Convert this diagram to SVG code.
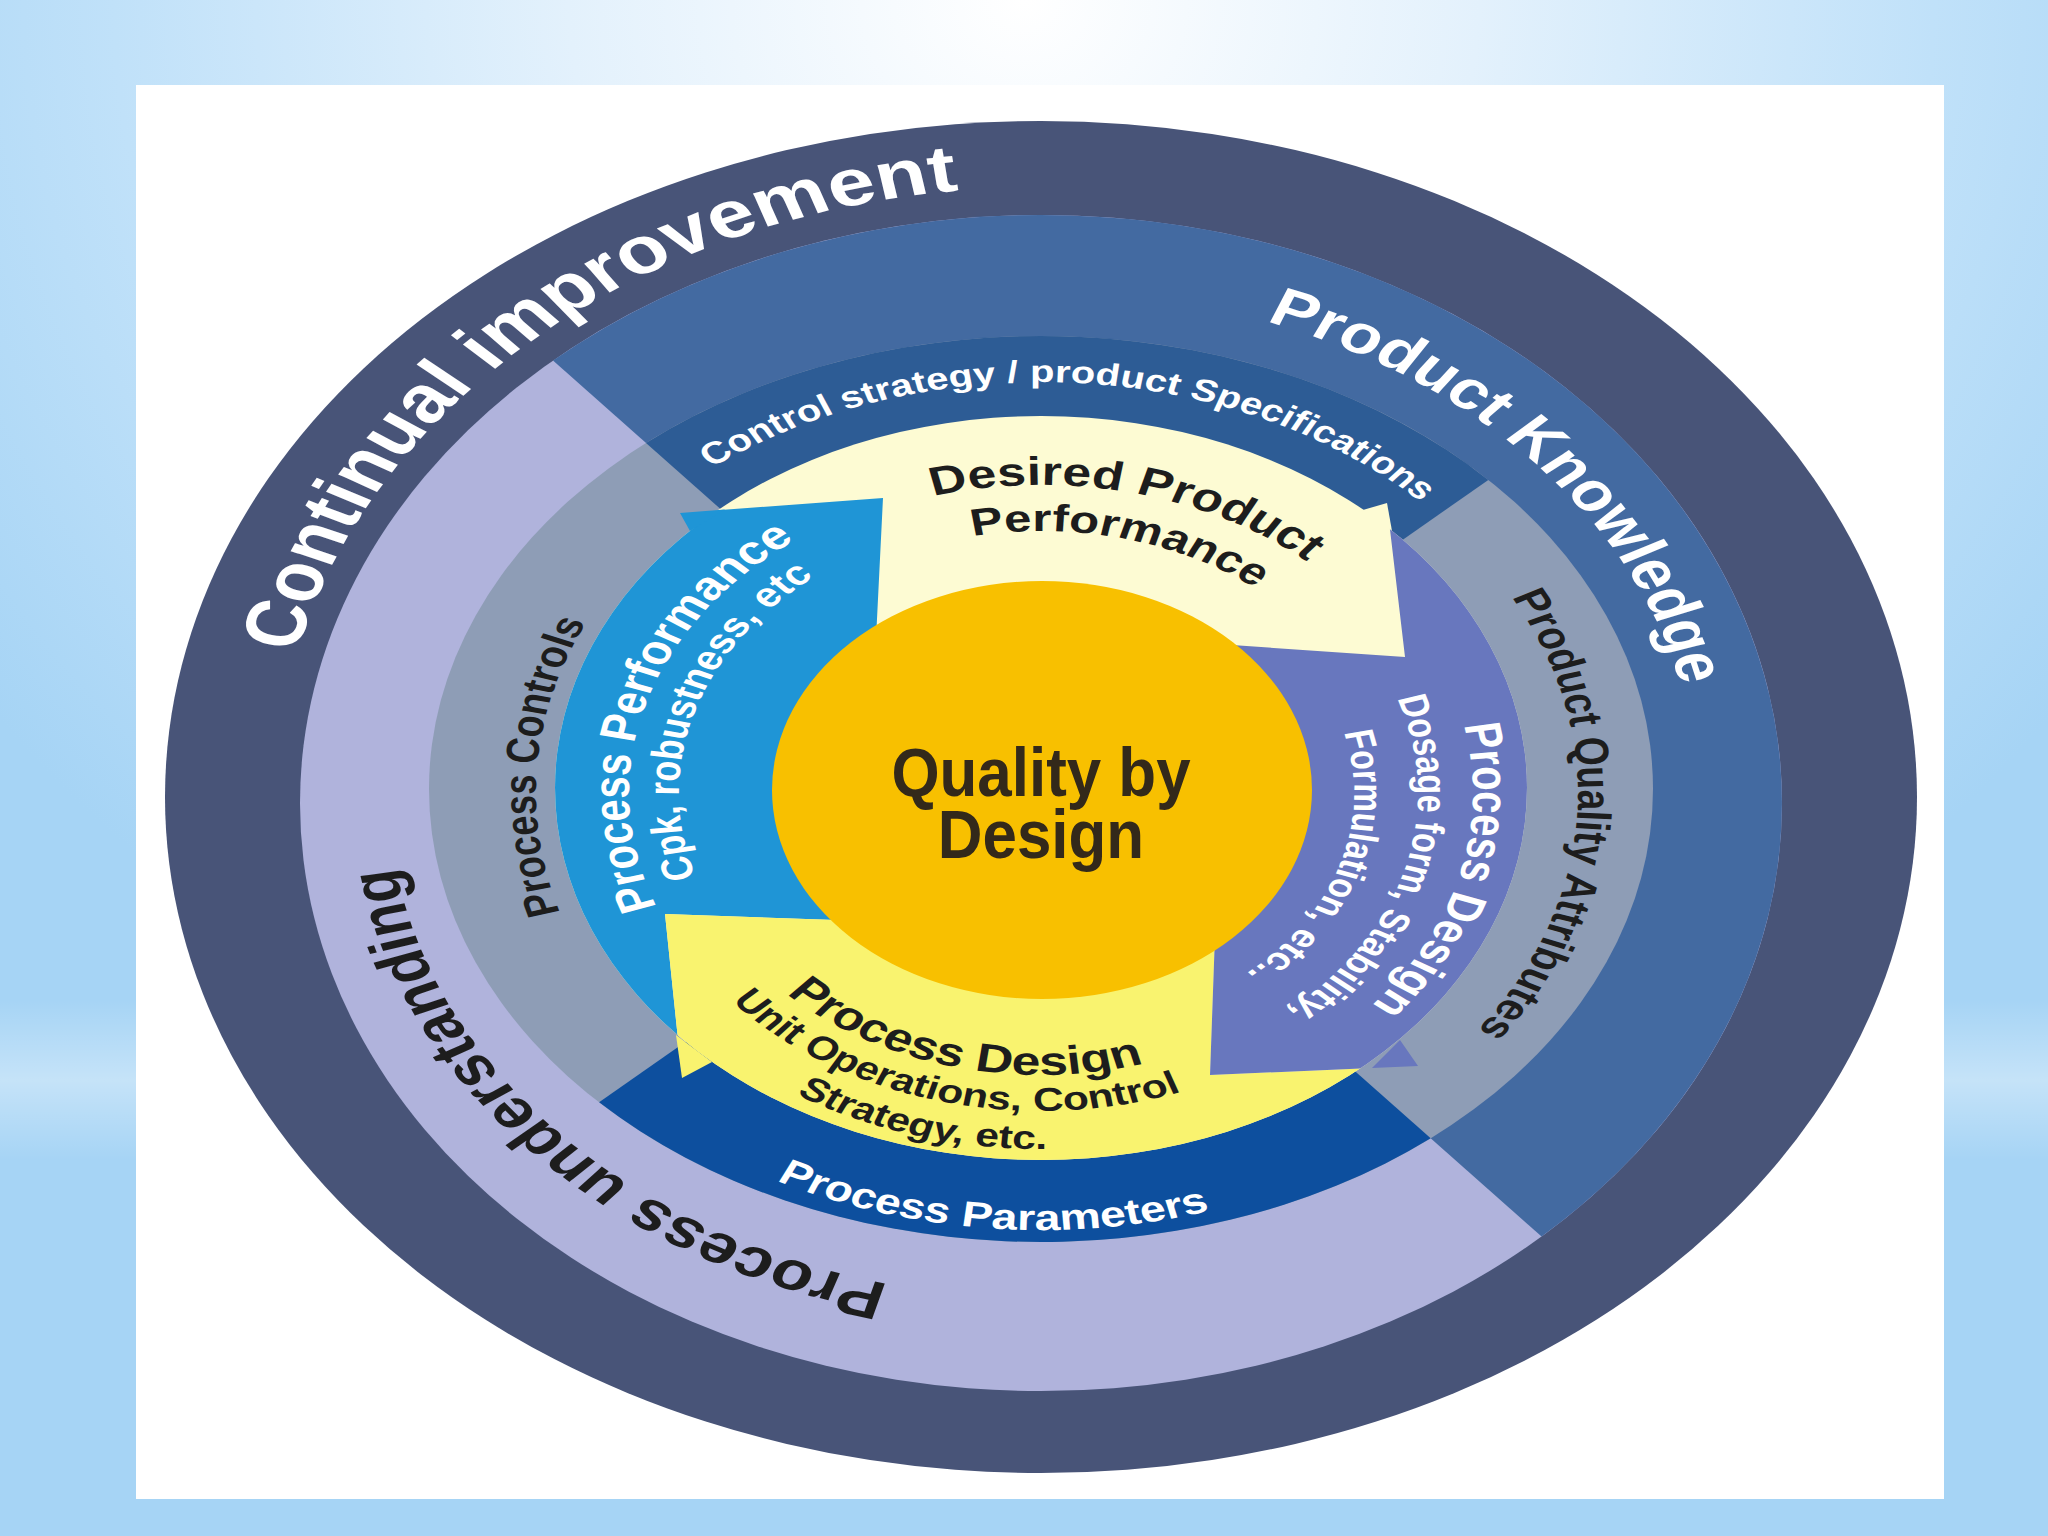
<svg xmlns="http://www.w3.org/2000/svg" xmlns:xlink="http://www.w3.org/1999/xlink" width="2048" height="1536" viewBox="0 0 2048 1536">
<defs>
<style>
.t{font-family:'Liberation Sans',Arial,Helvetica,sans-serif;font-weight:bold;}
.w{fill:#ffffff;}
.d{fill:#1d1d1d;}
</style>
<radialGradient id="bg" cx="1024" cy="0" r="1300" gradientUnits="userSpaceOnUse" gradientTransform="translate(1024 0) scale(1 0.9) translate(-1024 0)">
<stop offset="0" stop-color="#ffffff"/>
<stop offset="0.35" stop-color="#e3f1fc"/>
<stop offset="0.7" stop-color="#c0e1f9"/>
<stop offset="1" stop-color="#a6d4f5"/>
</radialGradient>
<linearGradient id="band" x1="0" y1="0" x2="0" y2="1">
<stop offset="0" stop-color="#ffffff" stop-opacity="0"/>
<stop offset="0.5" stop-color="#ffffff" stop-opacity="0.35"/>
<stop offset="1" stop-color="#ffffff" stop-opacity="0"/>
</linearGradient>
<clipPath id="r4clip"><ellipse cx="1041" cy="788" rx="486" ry="372"/></clipPath>
<path id="p-ci" d="M 532.7 1105.1 A 593 606 0 0 1 1414.2 322.1"/>
<path id="p-pk" d="M 944.1 300.2 A 507.8 502 0 0 1 1521.1 956.5"/>
<path id="p-pu" d="M 1150.4 1286 A 505.4 505 0 0 1 559 641.1"/>
<path id="p-cs" d="M 693.7 565.6 A 417 411 0 0 1 1414.5 610.3"/>
<path id="p-pqa" d="M 1270.1 453.2 A 416.3 407 0 0 1 1227.4 1156.9"/>
<path id="p-pp" d="M 638.4 976.3 A 443.4 437 0 0 0 1403.3 1044.9"/>
<path id="p-pc" d="M 822.1 1118 A 391.5 392 0 0 1 869.4 440.7"/>
<path id="p-perf1" d="M 811.2 1011.8 A 319.4 315 0 0 1 963.7 487.4"/>
<path id="p-perf2" d="M 836.7 983 A 280.6 277 0 0 1 976.4 523.4"/>
<path id="p-dpp1" d="M 812.5 582.9 A 312.4 308 0 0 1 1339.8 702.9"/>
<path id="p-dpp2" d="M 848.2 612 A 266.7 262 0 0 1 1297 719.5"/>
<path id="p-pd1" d="M 1273.6 555.6 A 334.9 330 0 0 1 1133.3 1110.2"/>
<path id="p-pd2" d="M 1247.3 589 A 292.2 288 0 0 1 1117.1 1071.1"/>
<path id="p-pd3" d="M 1218.8 630.3 A 242.6 239 0 0 1 1095.2 1026"/>
<path id="p-uo1" d="M 771.2 870.7 A 280.6 282 0 0 0 1242.9 988.9"/>
<path id="p-uo2" d="M 735.3 878 A 317.3 318 0 0 0 1267.3 1015.9"/>
<path id="p-uo3" d="M 695.6 880.9 A 356.4 356 0 0 0 1289.9 1047.8"/>
</defs>

<g id="background">
<rect x="0" y="0" width="2048" height="1536" fill="url(#bg)"/>
<rect x="0" y="1000" width="2048" height="160" fill="url(#band)"/>
<rect x="136" y="85" width="1808" height="1414" fill="#ffffff"/>
</g>

<g id="ring-continual-improvement">
<ellipse cx="1041" cy="797" rx="876" ry="676" fill="#485478"/>
<g transform="matrix(1.29 0 0 1 -301.89 0)">
<text class="t w" font-size="66"><textPath href="#p-ci" startOffset="50%" text-anchor="middle">Continual improvement</textPath></text>
</g>
</g>

<g id="ring-process-understanding">
<ellipse cx="1041" cy="803" rx="741" ry="588" fill="#b0b3dc"/>
<g transform="matrix(1.29 0 0 1 -301.89 0)">
<text class="t d" font-size="54"><textPath href="#p-pu" startOffset="50%" text-anchor="middle">Process understanding</textPath></text>
</g>
</g>

<g id="ring-product-knowledge">
<path d="M 1041 793 L 553 360.6 A 741 588 0 0 1 1041 215 A 741 588 0 0 1 1541.6 1236.5 Z" fill="#436aa1"/>
<g transform="matrix(1.29 0 0 1 -301.89 0)">
<text class="t w" font-size="54"><textPath href="#p-pk" startOffset="50%" text-anchor="middle">Product Knowledge</textPath></text>
</g>
</g>

<g id="band-process-controls">
<ellipse cx="1041" cy="789" rx="612" ry="453" fill="#8e9db6"/>
<g transform="matrix(1.29 0 0 1 -301.89 0)">
<text class="t d" font-size="36"><textPath href="#p-pc" startOffset="50%" text-anchor="middle">Process Controls</textPath></text>
</g>
</g>

<g id="band-product-quality-attributes">
<g transform="matrix(1.29 0 0 1 -301.89 0)">
<text class="t d" font-size="37"><textPath href="#p-pqa" startOffset="50%" text-anchor="middle">Product Quality Attributes</textPath></text>
</g>
</g>

<g id="band-control-strategy">
<path d="M 1041 793 L 646 443 A 612 453 0 0 1 1488.3 479.9 Z" fill="#2d5c95"/>
<g transform="matrix(1.29 0 0 1 -301.89 0)">
<text class="t w" font-size="31"><textPath href="#p-cs" startOffset="50%" text-anchor="middle">Control strategy / product Specifications</textPath></text>
</g>
</g>

<g id="band-process-parameters">
<path d="M 1041 793 L 1430.7 1138.3 A 612 453 0 0 1 599.1 1102.3 Z" fill="#0d4f9e"/>
<g transform="matrix(1.29 0 0 1 -301.89 0)">
<text class="t w" font-size="36"><textPath href="#p-pp" startOffset="50%" text-anchor="middle">Process Parameters</textPath></text>
</g>
</g>

<g id="arrows">
<g id="arrow-desired-product-performance">
<ellipse cx="1041" cy="788" rx="486" ry="372" fill="#fdfbd3"/>
<polygon points="1356,512 1387,503 1392,531" fill="#fdfbd3"/>
</g>
<g id="arrow-process-performance">
<polygon clip-path="url(#r4clip)" points="883,498 870,760 835,920 665,914 682,1078 690,1300 300,1300 300,513 680,513" fill="#1f95d6"/>
<polygon points="680,513 725,509.6 690,531" fill="#1f95d6"/>
</g>
<g id="arrow-process-design-unit-operations">
<polygon clip-path="url(#r4clip)" points="665,914 835,920 1000,900 1215,935 1210,1075 1418,1066 1450,1300 690,1300 682,1078" fill="#f9f36f"/>
<polygon points="676,1035 682,1078 712,1062" fill="#f9f36f"/>
</g>
<g id="arrow-process-design-dosage">
<polygon clip-path="url(#r4clip)" points="1405,657 1232,645 1100,700 1215,935 1210,1075 1418,1066 1700,1100 1700,300 1363,300" fill="#6877be"/>
<polygon points="1372,1068 1418,1066 1400,1040" fill="#6877be"/>
</g>
<g transform="matrix(1.29 0 0 1 -301.89 0)">
<text class="t d" font-size="40"><textPath href="#p-dpp1" startOffset="50%" text-anchor="middle">Desired Product</textPath></text>
<text class="t d" font-size="38"><textPath href="#p-dpp2" startOffset="50%" text-anchor="middle">Performance</textPath></text>
<text class="t w" font-size="40"><textPath href="#p-perf1" startOffset="50%" text-anchor="middle">Process Performance</textPath></text>
<text class="t w" font-size="34"><textPath href="#p-perf2" startOffset="50%" text-anchor="middle">Cpk, robustness, etc</textPath></text>
<text class="t w" font-size="40"><textPath href="#p-pd1" startOffset="50%" text-anchor="middle">Process Design</textPath></text>
<text class="t w" font-size="32"><textPath href="#p-pd2" startOffset="50%" text-anchor="middle">Dosage form, Stability,</textPath></text>
<text class="t w" font-size="32"><textPath href="#p-pd3" startOffset="50%" text-anchor="middle">Formulation, etc..</textPath></text>
<text class="t d" font-size="40"><textPath href="#p-uo1" startOffset="50%" text-anchor="middle">Process Design</textPath></text>
<text class="t d" font-size="33"><textPath href="#p-uo2" startOffset="50%" text-anchor="middle">Unit Operations, Control</textPath></text>
<text class="t d" font-size="33"><textPath href="#p-uo3" startOffset="50%" text-anchor="middle">Strategy, etc.</textPath></text>
</g>
</g>

<g id="center-quality-by-design">
<ellipse cx="1042" cy="790" rx="270" ry="209" fill="#f8c000"/>
<g transform="matrix(0.91 0 0 1 93.69 0)">
<text class="t" font-size="68" fill="#33291a" text-anchor="middle" x="1041" y="796">Quality by</text>
<text class="t" font-size="68" fill="#33291a" text-anchor="middle" x="1041" y="858">Design</text>
</g>
</g>
</svg>
